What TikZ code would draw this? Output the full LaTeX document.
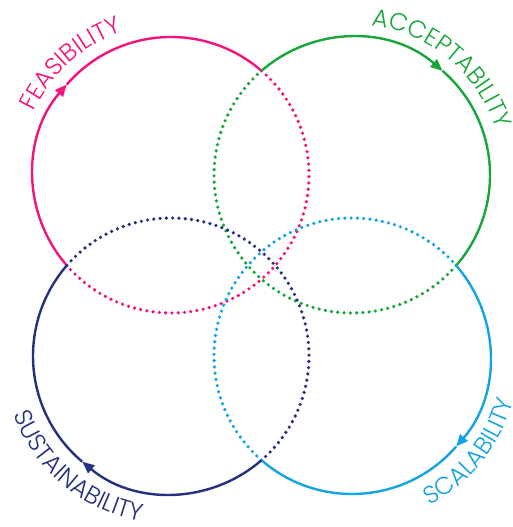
\documentclass[tikz,border=0pt]{standalone}
\usepackage{fontspec}
\setmainfont{Poppins Light}
\usetikzlibrary{arrows.meta,decorations.text}
\definecolor{pinkc}{HTML}{F2137B}
\definecolor{greenc}{HTML}{17A63A}
\definecolor{navyc}{HTML}{25307F}
\definecolor{cyanc}{HTML}{14A3E3}
\tikzset{
  solidarc/.style={line width=2.4pt},
  dotarc/.style={line width=3.6pt, line cap=round, dash pattern=on 0pt off 6.3pt},
  tipped/.style={-{Triangle[length=12pt,width=10pt]}},
  labeltext/.style={decorate, decoration={text along path, text align=center, text color=#1}}
}
\begin{document}
\begin{tikzpicture}[x=1pt,y=1pt]
\useasboundingbox (0,0) rectangle (512,527);
\coordinate (P) at (171,352);
\coordinate (G) at (352,352);
\coordinate (N) at (171,171);
\coordinate (C) at (352,171);
% pink (feasibility)
\draw[solidarc,pinkc,tipped] (P) ++(221:138pt) arc[start angle=221,end angle=139,radius=138pt];
\draw[solidarc,pinkc] (P) ++(139:138pt) arc[start angle=139,end angle=49,radius=138pt];
\draw[dotarc,pinkc] (P) ++(49:138pt) arc[start angle=49,end angle=-139,radius=138pt];
% green (acceptability)
\draw[solidarc,greenc,tipped] (G) ++(131:138pt) arc[start angle=131,end angle=49,radius=138pt];
\draw[solidarc,greenc] (G) ++(49:138pt) arc[start angle=49,end angle=-41,radius=138pt];
\draw[dotarc,greenc] (G) ++(-41:138pt) arc[start angle=-41,end angle=-229,radius=138pt];
% cyan (scalability)
\draw[solidarc,cyanc,tipped] (C) ++(41:138pt) arc[start angle=41,end angle=-41,radius=138pt];
\draw[solidarc,cyanc] (C) ++(-41:138pt) arc[start angle=-41,end angle=-131,radius=138pt];
\draw[dotarc,cyanc] (C) ++(-131:138pt) arc[start angle=-131,end angle=-319,radius=138pt];
% navy (sustainability)
\draw[solidarc,navyc,tipped] (N) ++(311:138pt) arc[start angle=311,end angle=230,radius=138pt];
\draw[solidarc,navyc] (N) ++(230:138pt) arc[start angle=230,end angle=139,radius=138pt];
\draw[dotarc,navyc] (N) ++(139:138pt) arc[start angle=139,end angle=-49,radius=138pt];
% labels
\path[labeltext=pinkc, decoration={text={|\fontsize{24.5}{24.5}\selectfont|FEASIBILITY}}]
  (P) ++(192:151pt) arc[start angle=192,end angle=72,radius=151pt];
\path[labeltext=greenc, decoration={text={|\fontsize{24.5}{24.5}\selectfont|ACCEPTABILITY}}]
  (G) ++(110:151pt) arc[start angle=110,end angle=-10,radius=151pt];
\path[labeltext=navyc, decoration={text={|\fontsize{24.5}{24.5}\selectfont|SUSTAINABILITY}}]
  (N) ++(170:168pt) arc[start angle=170,end angle=290,radius=168pt];
\path[labeltext=cyanc, decoration={text={|\fontsize{24.5}{24.5}\selectfont|SCALABILITY}}]
  (C) ++(261:168pt) arc[start angle=261,end angle=381,radius=168pt];
\end{tikzpicture}
\end{document}
